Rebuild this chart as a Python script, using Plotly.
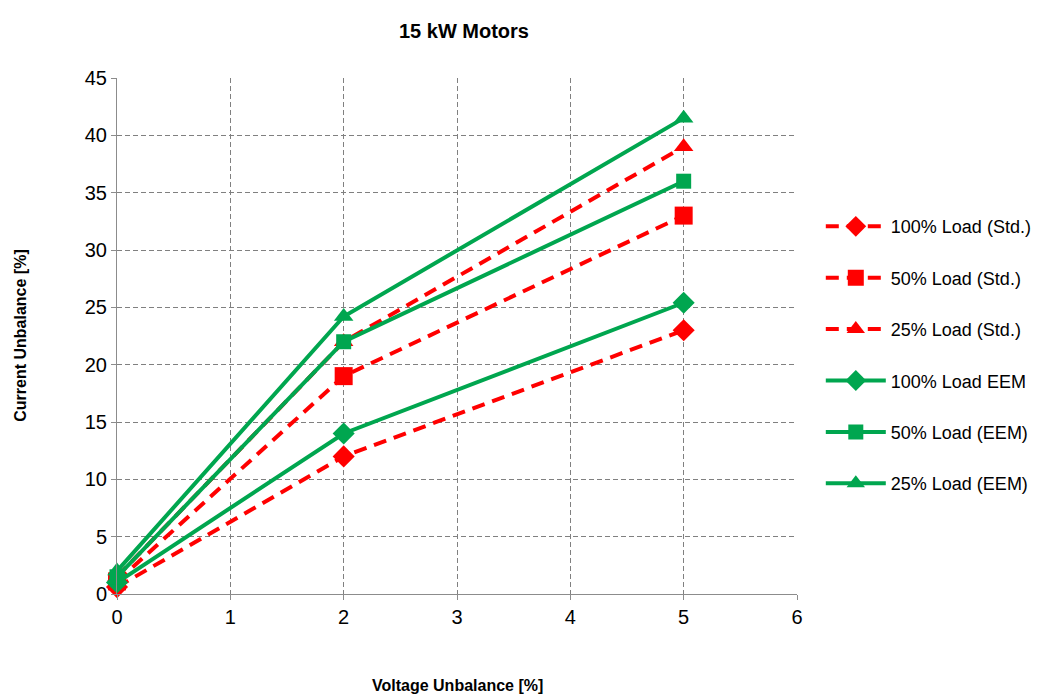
import plotly.graph_objects as go

# Voltage unbalance steps (%)
voltage_unbalance = [0, 2, 5]

# Current unbalance (%) for standard motors
std_100 = [0.6, 12, 23]
std_50 = [1.1, 19, 33]
std_25 = [1.5, 22, 39]

# Current unbalance (%) for energy-efficient motors
eem_100 = [1.0, 14, 25.4]
eem_50 = [1.5, 22, 36]
eem_25 = [2.0, 24.2, 41.5]

series = [
    ("100% Load (Std.)", std_100, "#ff0000", "13px,8px", "diamond", 17),
    ("50% Load (Std.)", std_50, "#ff0000", "13px,8px", "square", 18),
    ("25% Load (Std.)", std_25, "#ff0000", "13px,8px", "triangle-up", 17),
    ("100% Load EEM", eem_100, "#00a64f", "solid", "diamond", 17),
    ("50% Load (EEM)", eem_50, "#00a64f", "solid", "square", 15),
    ("25% Load (EEM)", eem_25, "#00a64f", "solid", "triangle-up", 17),
]

font_family = "Liberation Sans, Arial, sans-serif"

fig = go.Figure()
for i, (name, values, color, dash, symbol, size) in enumerate(series):
    fig.add_trace(go.Scatter(
        x=voltage_unbalance,
        y=values,
        name=name,
        legendgroup=f"g{i}",
        mode="lines+markers",
        line=dict(color=color, width=4, dash=dash),
        marker=dict(symbol=symbol, size=size, color=color),
        cliponaxis=False,
    ))

fig.update_layout(
    width=1045,
    height=697,
    paper_bgcolor="white",
    plot_bgcolor="white",
    margin=dict(l=117, r=248, t=78, b=103, autoexpand=False),
    font=dict(family=font_family, size=20, color="#000000"),
    title=dict(
        text="<b>15 kW Motors</b>",
        x=0.444, xanchor="center", y=0.955, yanchor="middle",
        font=dict(family=font_family, size=20),
    ),
    legend=dict(
        x=1.035, xanchor="left", y=0.463, yanchor="middle",
        font=dict(family=font_family, size=18),
        tracegroupgap=25, itemwidth=60,
        bgcolor="rgba(0,0,0,0)",
    ),
    showlegend=True,
    annotations=[
        dict(text="<b>Voltage Unbalance [%]</b>", xref="paper", yref="paper",
             x=0.5, y=-0.178, xanchor="center", yanchor="middle", showarrow=False,
             font=dict(family=font_family, size=16)),
        dict(text="<b>Current Unbalance [%]</b>", xref="paper", yref="paper",
             x=-0.143, y=0.5, xanchor="center", yanchor="middle",
             textangle=-90, showarrow=False,
             font=dict(family=font_family, size=16)),
    ],
)

gridstyle = dict(showgrid=True, gridcolor="#808080", gridwidth=1, griddash="5px,3px")

fig.update_xaxes(
    range=[0, 6], dtick=1, tick0=0,
    showline=True, linecolor="#8c8c8c", linewidth=1,
    ticks="outside", ticklen=5, tickcolor="#8c8c8c",
    zeroline=False, mirror=False, automargin=False,
    **gridstyle,
)
fig.update_yaxes(
    range=[0, 45], dtick=5, tick0=0,
    showline=True, linecolor="#8c8c8c", linewidth=1,
    ticks="outside", ticklen=5, tickcolor="#8c8c8c",
    zeroline=False, automargin=False,
    **gridstyle,
)

fig.write_html("out.html")
